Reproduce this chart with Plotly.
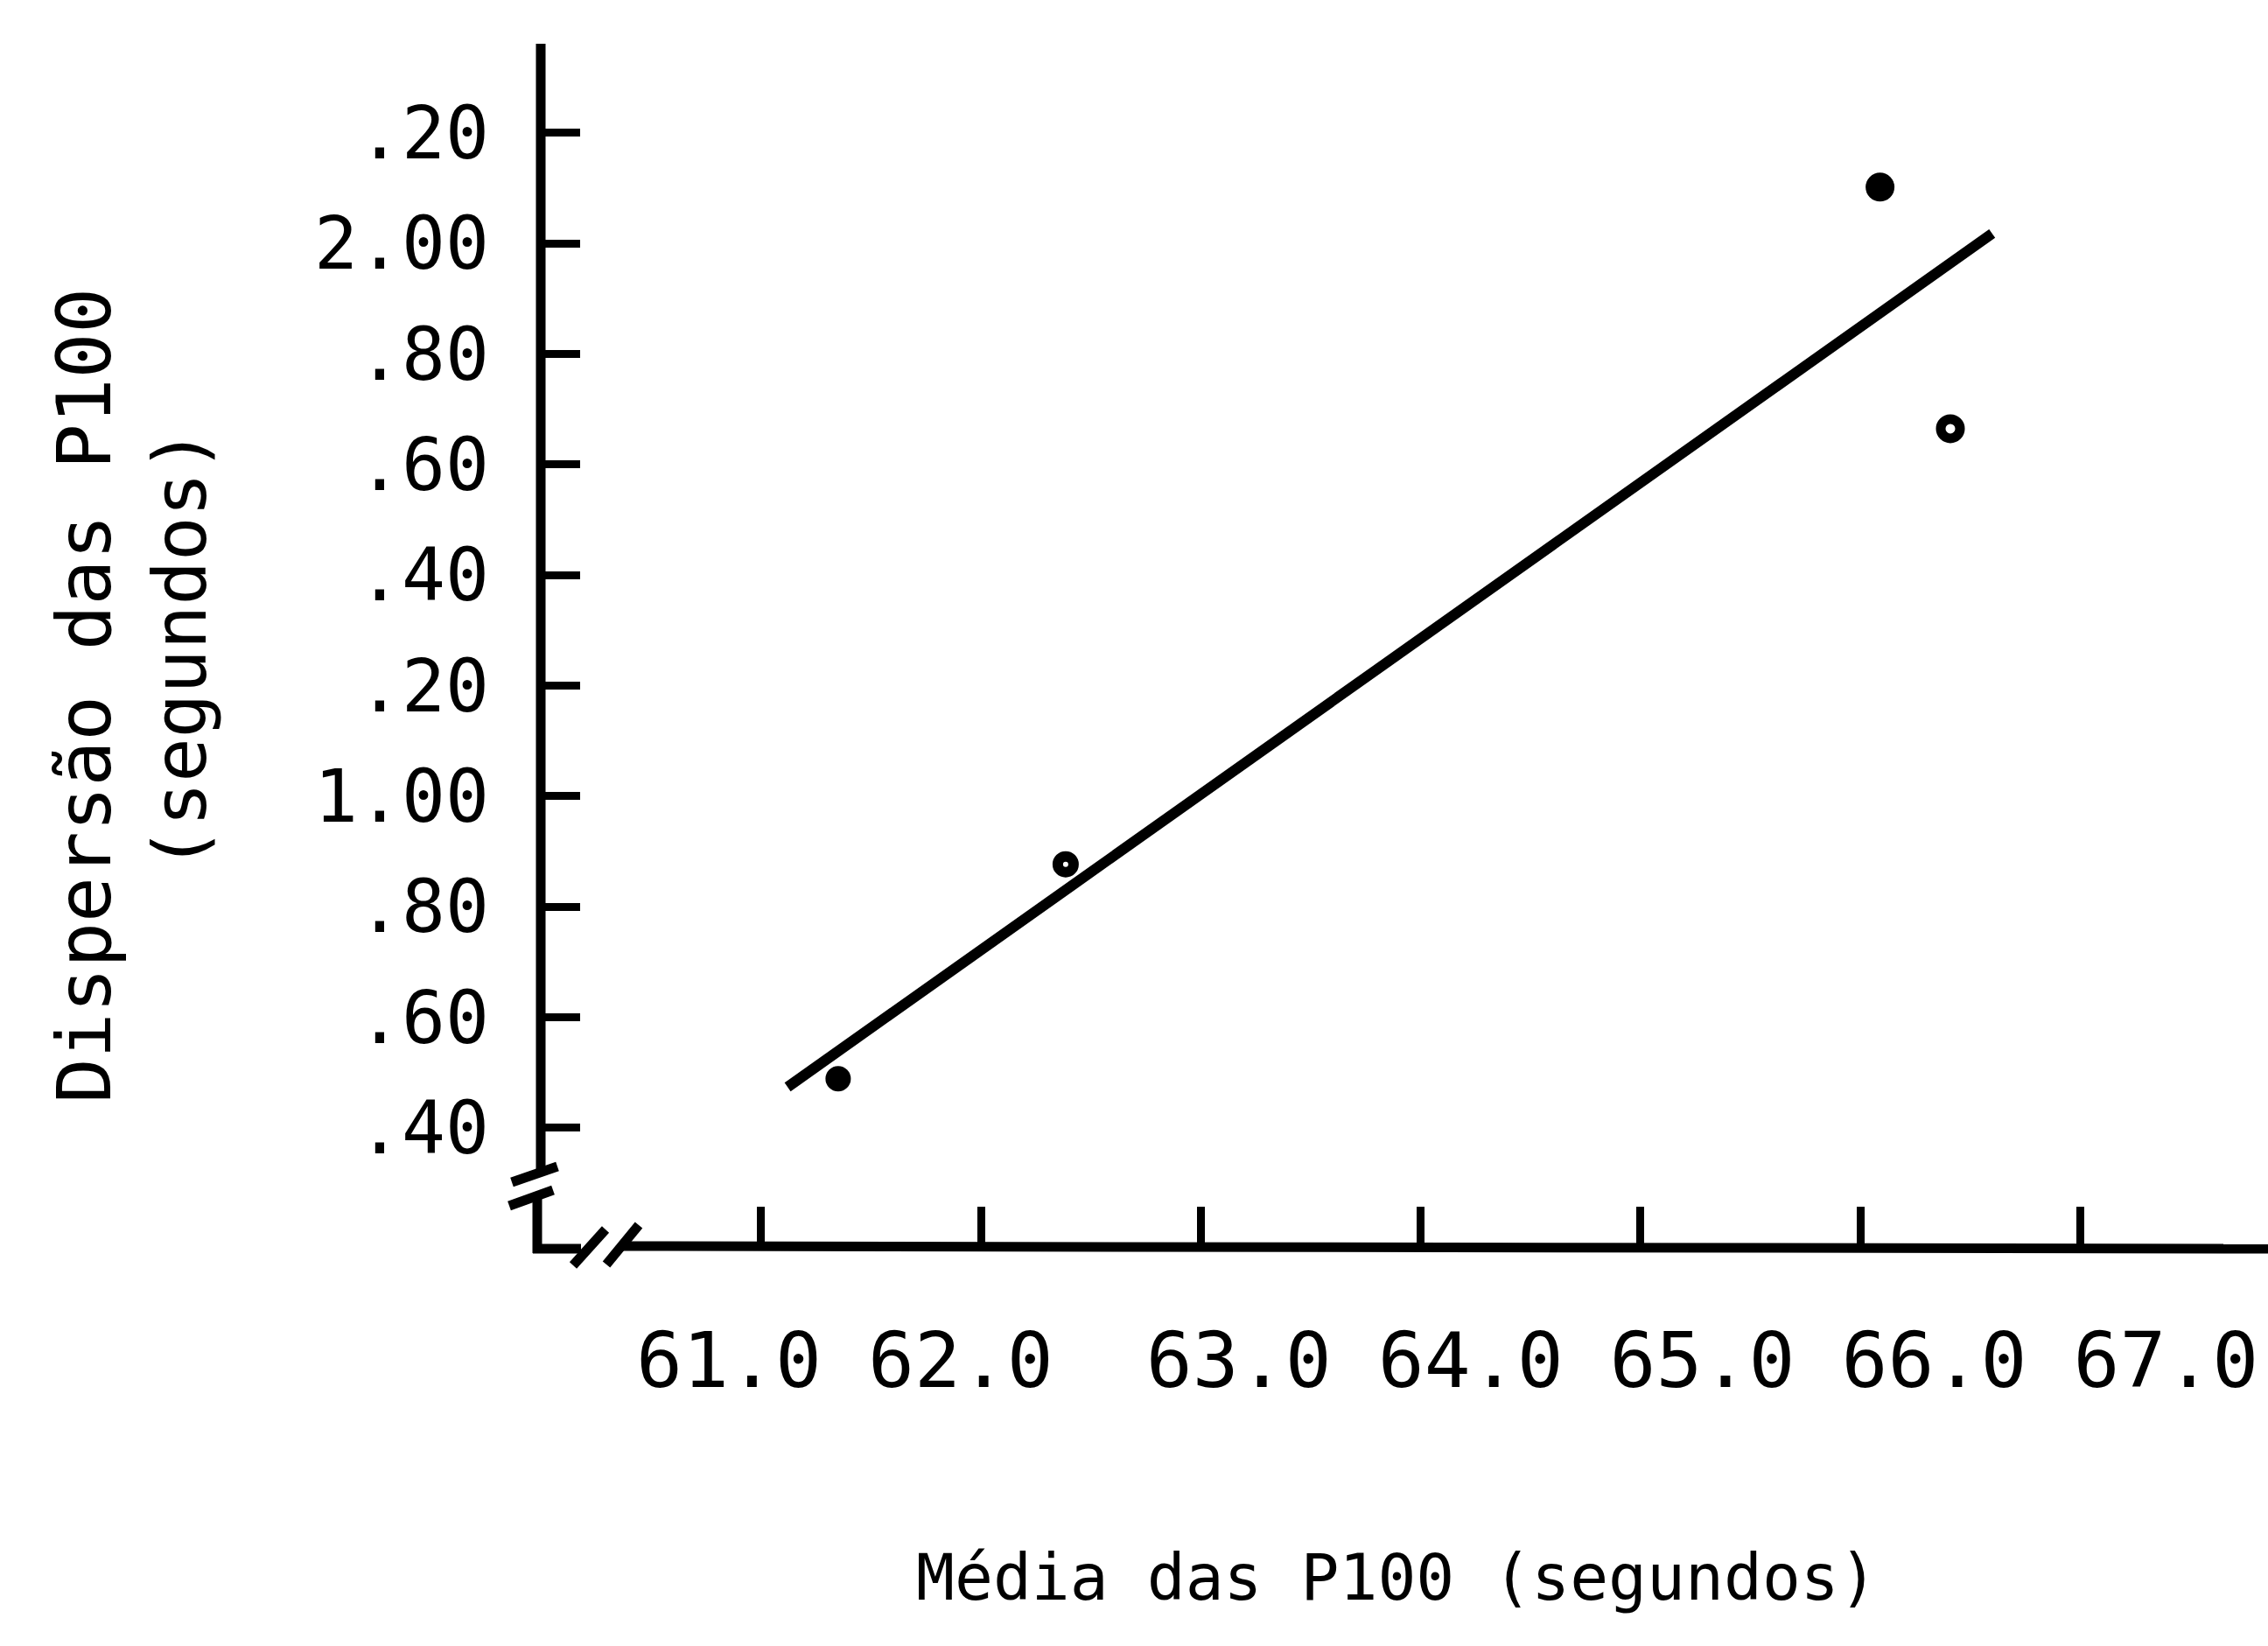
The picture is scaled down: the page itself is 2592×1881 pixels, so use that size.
import plotly.graph_objects as go

# ---------------- data ----------------
x_ticks = [61.0, 62.0, 63.0, 64.0, 65.0, 66.0, 67.0]
x_tick_labels = ["61.0", "62.0", "63.0", "64.0", "65.0", "66.0", "67.0"]
x_label_gaps = [1, 2, 1, 1, 1, 1]  # typed spaces between labels

y_ticks = [2.2, 2.0, 1.8, 1.6, 1.4, 1.2, 1.0, 0.8, 0.6, 0.4]
y_tick_labels = [".20", "2.00", ".80", ".60", ".40", ".20", "1.00", ".80", ".60", ".40"]

point_x = [66.09, 66.41, 62.385, 61.35]
point_y = [2.102, 1.665, 0.877, 0.489]

fit_x = [61.12, 66.60]
fit_y = [0.474, 2.018]

x_title = "Média das P100 (segundos)"
y_title_1 = "Dispersão das P100"
y_title_2 = "(segundos)"

# ---------------- layout geometry ----------------
W, H = 2592, 1881
L, R, T, B = 618, 0, 50, 454
PW, PH = W - L - R, H - T - B
FONT = "DejaVu Sans Mono"


def px(x):
    return (x - L) / PW


def py(y):
    return (H - B - y) / PH


fig = go.Figure()

fig.add_trace(go.Scatter(
    x=fit_x, y=fit_y, mode="lines",
    line=dict(color="black", width=12), hoverinfo="skip"))

fig.add_trace(go.Scatter(
    x=point_x, y=point_y, mode="markers",
    marker=dict(symbol="circle", opacity=1,
                color=["black", "white", "white", "black"],
                size=[33, 22, 18, 29],
                line=dict(color="black", width=[0, 11, 12, 0])),
    hoverinfo="skip"))

# axis lines with breaks (decoration)
segs = [
    ((618, 50), (618, 1343)),
    ((614, 1370), (614, 1432)),
    ((585, 1351), (637, 1333)),
    ((582, 1378), (632, 1360)),
    ((609, 1427), (664, 1427)),
    ((655, 1446), (692, 1405)),
    ((693, 1445), (730, 1400)),
    ((712, 1424), (W + 5, 1427)),
]
shapes = []
for (x0, y0), (x1, y1) in segs:
    shapes.append(dict(type="line", xref="paper", yref="paper",
                       x0=px(x0), y0=py(y0), x1=px(x1), y1=py(y1),
                       line=dict(color="black", width=11)))

sep = []
for g in x_label_gaps:
    sep.append("\u00a0" * g)
x_label_text = x_tick_labels[0]
for s, lab in zip(sep, x_tick_labels[1:]):
    x_label_text += s + lab

annotations = [
    dict(text=x_label_text, xref="paper", yref="paper",
         x=px(725), y=py(1554), xanchor="left", yanchor="middle",
         showarrow=False, font=dict(family=FONT, size=88, color="black")),
    dict(text=x_title, xref="paper", yref="paper",
         x=px(1596), y=py(1802), xanchor="center", yanchor="middle",
         showarrow=False, font=dict(family=FONT, size=73, color="black")),
    dict(text=y_title_1, xref="paper", yref="paper", textangle=-90,
         x=px(96), y=py(795), xanchor="center", yanchor="middle",
         showarrow=False, font=dict(family=FONT, size=86, color="black")),
    dict(text=y_title_2, xref="paper", yref="paper", textangle=-90,
         x=px(206), y=py(742), xanchor="center", yanchor="middle",
         showarrow=False, font=dict(family=FONT, size=84, color="black")),
]

fig.update_layout(
    width=W, height=H,
    margin=dict(l=L, r=R, t=T, b=B, pad=0),
    paper_bgcolor="white", plot_bgcolor="white",
    showlegend=False,
    shapes=shapes,
    annotations=annotations,
    xaxis=dict(range=[59.997, 67.855], tickvals=x_ticks, showticklabels=False,
               ticks="inside", ticklen=48, tickwidth=9, tickcolor="black",
               showgrid=False, zeroline=False, showline=False, fixedrange=True),
    yaxis=dict(range=[0.1815, 2.3614], tickvals=y_ticks, ticktext=y_tick_labels,
               ticks="inside", ticklen=45, tickwidth=9, tickcolor="black",
               tickfont=dict(family=FONT, size=83, color="black"),
               ticklabelstandoff=58,
               showgrid=False, zeroline=False, showline=False, fixedrange=True),
)

fig.write_html("out.html")
